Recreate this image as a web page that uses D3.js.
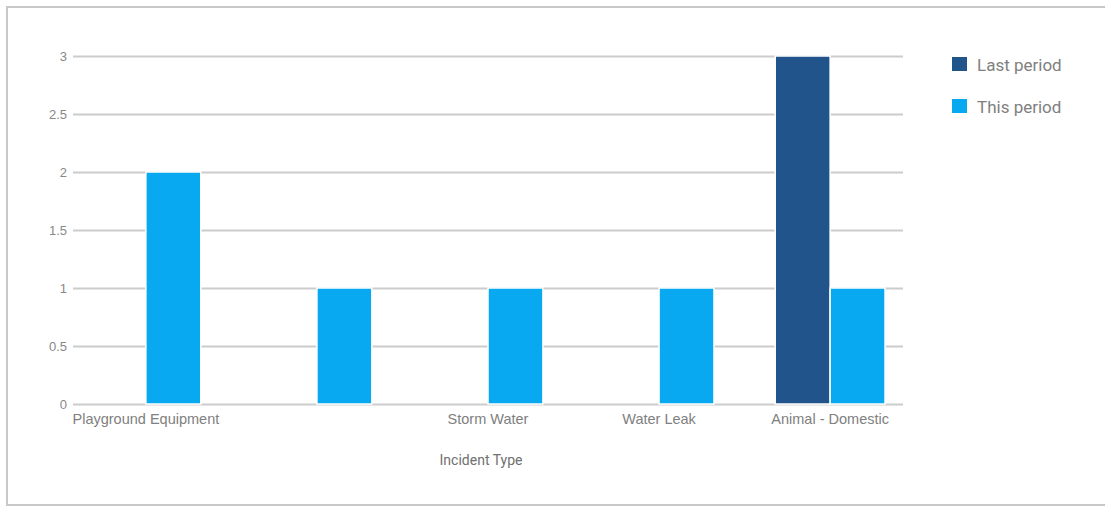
<!DOCTYPE html>
<html>
<head>
<meta charset="utf-8">
<script src="https://cdn.jsdelivr.net/npm/d3@7"></script>
<style>
  html, body { margin: 0; padding: 0; background: #fff; }
  svg { display: block; font-family: Roboto, "Noto Sans", sans-serif; }
</style>
</head>
<body>
<svg id="chart" width="1105" height="509"></svg>
<script>
// Incident counts per type, compared across two reporting periods
const categories = ["Playground Equipment", "", "Storm Water", "Water Leak", "Animal - Domestic"];
const seriesNames = ["Last period", "This period"];
const lastPeriod = [0, 0, 0, 0, 3];
const thisPeriod = [2, 1, 1, 1, 1];
const yTicks = [0, 0.5, 1, 1.5, 2, 2.5, 3];
const colors = ["#22548c", "#09a9f1"];

const svg = d3.select("#chart");
const W = 1105, H = 509;
const plot = { left: 73, right: 903, top: 56, bottom: 404 };

// outer frame (runs off the right edge)
svg.append("rect")
  .attr("x", 7).attr("y", 7)
  .attr("width", W + 10).attr("height", 498)
  .attr("fill", "#fff").attr("stroke", "#c8c8c8").attr("stroke-width", 2);

const x0 = d3.scaleBand()
  .domain(categories)
  .range([plot.left, plot.right])
  .paddingInner(0.358)
  .paddingOuter(0.105);

const x1 = d3.scaleBand()
  .domain(seriesNames)
  .range([0, x0.bandwidth()]);

const y = d3.scaleLinear()
  .domain([0, 3])
  .range([plot.bottom, plot.top]);

// horizontal gridlines with their value labels
const yAxis = d3.axisLeft(y)
  .tickValues(yTicks)
  .tickSize(-(plot.right - plot.left))
  .tickPadding(6)
  .tickFormat(d3.format("~g"));

const gy = svg.append("g")
  .attr("transform", `translate(${plot.left},0)`)
  .call(yAxis);
gy.select(".domain").remove();
gy.selectAll(".tick line").attr("stroke", "#cccccc").attr("stroke-width", 2);
gy.selectAll(".tick text")
  .attr("fill", "#888888")
  .style("font-size", "13px");

// grouped bars
const rows = categories.map((c, i) => ({ cat: c, values: [lastPeriod[i], thisPeriod[i]] }));

const groups = svg.append("g").selectAll("g")
  .data(rows)
  .join("g")
  .attr("transform", d => `translate(${x0(d.cat)},0)`);

groups.selectAll("rect")
  .data(d => d.values.map((v, j) => ({ key: seriesNames[j], value: v, j })))
  .join("rect")
  .filter(d => d.value > 0)
  .attr("x", d => x1(d.key))
  .attr("y", d => y(d.value))
  .attr("width", x1.bandwidth())
  .attr("height", d => y(0) - y(d.value))
  .attr("fill", d => colors[d.j])
  .attr("stroke", "#ffffff")
  .attr("stroke-width", 1.5);

// category labels
const xAxis = d3.axisBottom(x0).tickSize(0).tickPadding(10);
const gx = svg.append("g")
  .attr("transform", `translate(0,${plot.bottom})`)
  .call(xAxis);
gx.select(".domain").remove();
gx.selectAll(".tick text")
  .attr("fill", "#808080")
  .style("font-size", "14.5px");

// axis title
svg.append("text")
  .attr("x", 481).attr("y", 465)
  .attr("text-anchor", "middle")
  .attr("fill", "#707070")
  .style("font-size", "14px")
  .text("Incident Type");

// legend
const legend = svg.append("g").selectAll("g")
  .data(seriesNames)
  .join("g")
  .attr("transform", (d, i) => `translate(952,${57 + i * 42})`);
legend.append("rect")
  .attr("width", 15).attr("height", 14)
  .attr("fill", (d, i) => colors[i]);
legend.append("text")
  .attr("x", 25).attr("y", 8)
  .attr("dy", "0.35em")
  .attr("fill", "#808080")
  .style("font-size", "17px")
  .text(d => d);
</script>
</body>
</html>
